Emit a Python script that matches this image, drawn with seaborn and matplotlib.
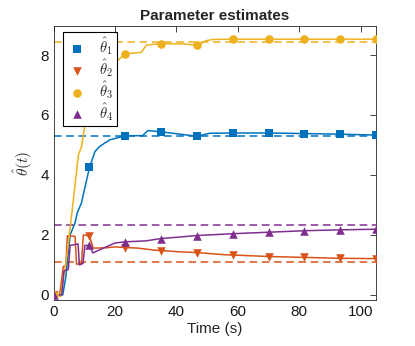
import numpy as np
import pandas as pd
import matplotlib
matplotlib.use("Agg")
import matplotlib.pyplot as plt
import seaborn as sns

# time stamps where markers sit
t_mark = [0, 11.7, 23.3, 35, 46.7, 58.3, 70, 81.7, 93.3, 105]

# estimate trajectories
t1 = [0, 3, 4, 5.4, 7, 7.7, 9.1, 11.7, 13.5, 15, 18.3, 23.3, 29, 30.7, 35, 46.7, 50.8, 58.3, 70, 81.7, 93.3, 105]
v1 = [0, 0, 0.6, 2.0, 2.4, 2.73, 3.07, 4.25, 4.78, 4.95, 5.17, 5.31, 5.31, 5.48, 5.44, 5.29, 5.39, 5.4, 5.4, 5.38, 5.36, 5.33]

t2 = [0, 2.0, 3.2, 4.0, 4.5, 7.0, 7.5, 9.1, 9.7, 11.7, 12.9, 17, 20, 23.3, 27.5, 33, 35, 40.4, 46.7, 55.6, 58.3, 70, 81.7, 93.3, 105]
v2 = [0, 0, 0.95, 0.97, 1.97, 1.95, 1.02, 1.05, 2.0, 1.97, 1.56, 1.57, 1.6, 1.58, 1.56, 1.49, 1.48, 1.44, 1.41, 1.34, 1.33, 1.28, 1.25, 1.22, 1.21]

t3 = [0, 2.3, 4.2, 5.6, 7.0, 8.1, 9.1, 10.8, 11.7, 15, 18, 20.5, 23.3, 28.6, 30.2, 35, 42.7, 46.7, 49.7, 52, 58.3, 70, 81.7, 93.3, 105]
v3 = [0, -0.05, 1.2, 2.4, 3.67, 4.67, 4.94, 6.06, 6.4, 7.1, 7.5, 7.78, 8.04, 8.09, 8.33, 8.38, 8.37, 8.32, 8.48, 8.52, 8.53, 8.53, 8.53, 8.53, 8.53]

t4 = [0, 2.7, 3.4, 4.8, 5.4, 8.0, 8.4, 9.6, 10.2, 11.7, 12.8, 16, 20, 23.3, 30, 35, 40, 46.7, 58.3, 70, 81.7, 93.3, 105]
v4 = [0, 0, 0.8, 0.85, 1.65, 1.7, 1.0, 1.05, 1.65, 1.65, 1.4, 1.55, 1.73, 1.77, 1.8, 1.88, 1.92, 1.98, 2.04, 2.09, 2.14, 2.17, 2.19]

theta_true = [5.3, 1.1, 8.42, 2.33]

labels = [r"$\hat{\theta}_1$", r"$\hat{\theta}_2$", r"$\hat{\theta}_3$", r"$\hat{\theta}_4$"]
colors = ["#0072BD", "#D95319", "#EDB120", "#7E2F8E"]
markers = ["s", "v", "o", "^"]

sns.set_style("white")
plt.rcParams['font.family'] = ['Liberation Sans', 'DejaVu Sans']
plt.rcParams['mathtext.fontset'] = 'cm'

fig = plt.figure(figsize=(4.15, 3.46), dpi=100)
ax = fig.add_axes([0.129, 0.133, 0.777, 0.792])

series = [(t1, v1), (t2, v2), (t3, v3), (t4, v4)]
for i, (t, v) in enumerate(series):
    df = pd.DataFrame({"t": t, "v": v})
    sns.lineplot(data=df, x="t", y="v", color=colors[i], linewidth=1.1, ax=ax, zorder=3)
    dm = df[df["t"].isin(t_mark)]
    sns.scatterplot(data=dm, x="t", y="v", color=colors[i], marker=markers[i], s=38,
                    edgecolor=colors[i], linewidth=0, ax=ax, zorder=4, label=labels[i])
    ax.axhline(theta_true[i], color=colors[i], linestyle=(0, (5, 3)), linewidth=1.1, zorder=2)

ax.set_xlim(0, 105)
ax.set_ylim(-0.17, 8.97)
ax.set_xticks([0, 20, 40, 60, 80, 100])
ax.set_yticks([0, 2, 4, 6, 8])
ax.tick_params(direction='in', top=True, right=True, length=4, width=0.6,
               labelsize=11, colors='#262626', labelcolor='#1a1a1a')
for s in ax.spines.values():
    s.set_color('#262626')
    s.set_linewidth(0.6)
    s.set_visible(True)

ax.set_title("Parameter estimates", fontsize=11, fontweight='bold', pad=4)
ax.set_xlabel("Time (s)", fontsize=11, labelpad=2)
ax.set_ylabel(r"$\hat{\theta}(t)$", fontsize=11, labelpad=4)

leg = ax.legend(loc='upper left', bbox_to_anchor=(0.029, 0.978), borderaxespad=0,
                fontsize=10.5, frameon=True, fancybox=False, framealpha=1,
                edgecolor='black', handletextpad=0.8, labelspacing=0.0,
                borderpad=0.25, handlelength=1.4)
leg.get_frame().set_linewidth(0.8)
leg.set_zorder(10)

fig.savefig("out.png", dpi=100)
